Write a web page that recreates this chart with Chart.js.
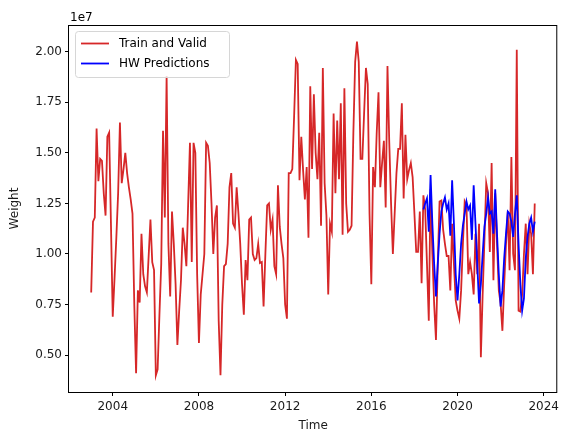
<!DOCTYPE html>
<html>
<head>
<meta charset="utf-8">
<script src="https://cdn.jsdelivr.net/npm/chart.js@4/dist/chart.umd.min.js"></script>
<style>
  html, body { margin: 0; padding: 0; background: #fff; }
</style>
</head>
<body>
<canvas id="chart" width="563" height="435"></canvas>
<script>
// monthly values from Jan 2003, weight in units of 1e7
var startYear = 2003;

var trainValid = [
  0.81, 1.16, 1.18, 1.62, 1.36, 1.47, 1.46, 1.30, 1.19, 1.58, 1.60, 1.15,   // 2003
  0.69, 0.88, 1.08, 1.30, 1.65, 1.35, 1.42, 1.50, 1.40, 1.33, 1.27, 1.20,   // 2004
  0.75, 0.41, 0.82, 0.76, 1.10, 0.90, 0.84, 0.81, 0.99, 1.17, 0.96, 0.92,   // 2005
  0.40, 0.43, 0.70, 0.95, 1.61, 1.18, 1.88, 1.05, 0.79, 1.21, 1.05, 0.85,   // 2006
  0.55, 0.72, 0.87, 1.13, 1.05, 0.94, 1.25, 1.55, 0.96, 1.55, 1.50, 0.90,   // 2007
  0.56, 0.80, 0.90, 1.00, 1.55, 1.535, 1.45, 1.25, 1.00, 1.18, 1.24, 0.67,  // 2008
  0.40, 0.75, 0.94, 0.95, 1.05, 1.33, 1.40, 1.15, 1.13, 1.33, 1.20, 1.05,   // 2009
  0.85, 0.70, 0.97, 0.87, 1.17, 1.18, 1.00, 0.97, 0.98, 1.05, 0.955, 0.96,  // 2010
  0.74, 1.00, 1.24, 1.25, 1.12, 1.17, 0.94, 0.90, 1.34, 1.135, 1.05, 0.98,  // 2011
  0.75, 0.68, 1.40, 1.40, 1.42, 1.68, 1.96, 1.94, 1.365, 1.58, 1.415, 1.27, // 2012
  1.43, 1.08, 1.83, 1.42, 1.79, 1.50, 1.37, 1.60, 1.14, 1.92, 1.35, 1.19,   // 2013
  0.80, 1.15, 1.11, 1.695, 1.30, 1.66, 1.37, 1.745, 1.095, 1.82, 1.25, 1.11, // 2014
  1.12, 1.14, 1.60, 1.95, 2.05, 1.95, 1.47, 1.47, 1.70, 1.92, 1.84, 1.20,   // 2015
  0.85, 1.43, 1.33, 1.60, 1.80, 1.33, 1.45, 1.56, 1.23, 1.93, 1.55, 1.25,   // 2016
  1.00, 1.20, 1.40, 1.52, 1.52, 1.745, 1.275, 1.59, 1.37, 1.415, 1.45, 1.38, // 2017
  1.20, 1.01, 1.01, 1.21, 0.855, 1.29, 1.22, 0.95, 0.67, 1.32, 1.00, 0.75,  // 2018
  0.575, 0.95, 1.26, 1.265, 1.12, 1.05, 0.99, 0.99, 0.82, 1.15, 0.95, 0.77, // 2019
  0.72, 0.68, 0.82, 1.05, 1.26, 1.24, 0.90, 0.96, 0.90, 0.80, 1.10, 0.90,   // 2020
  1.15, 0.49, 0.80, 1.07, 1.35, 1.30, 1.01, 1.45, 0.87, 1.30, 1.05, 0.82,   // 2021
  0.755, 0.62, 0.85, 1.05, 1.21, 0.92, 1.48, 1.00, 0.92, 2.01, 0.72, 0.715, // 2022
  0.80, 1.00, 1.15, 0.90, 1.15, 1.10, 0.90, 1.25                            // 2023
];

// predictions start at Jun 2018 (month index 185)
var hwStart = 185;
var hwPredictions = [
  1.22, 1.25, 1.275, 1.11, 1.39, 1.15, 0.95,                                // 2018
  0.79, 0.95, 1.10, 1.21, 1.25, 1.28, 1.22, 1.25, 1.09, 1.365, 1.15, 0.90,  // 2019
  0.77, 0.90, 1.05, 1.14, 1.20, 1.26, 1.22, 1.24, 1.07, 1.34, 1.15, 0.95,   // 2020
  0.755, 0.85, 1.00, 1.135, 1.20, 1.28, 1.20, 1.21, 1.10, 1.32, 1.10, 0.90, // 2021
  0.74, 0.82, 0.98, 1.10, 1.21, 1.20, 1.16, 1.085, 1.20, 1.29, 1.05, 0.85,  // 2022
  0.72, 0.78, 0.98, 1.085, 1.15, 1.18, 1.11, 1.16                           // 2023
];

var xTicks = [2004, 2008, 2012, 2016, 2020, 2024];
var yTicks = [0.5, 0.75, 1.0, 1.25, 1.5, 1.75, 2.0];

function toPoints(values, offset) {
  return values.map(function(v, i) {
    return { x: startYear + (offset + i) / 12, y: v };
  });
}

var fontFamily = "'DejaVu Sans', sans-serif";

// box around the axes, "1e7" offset text and the legend
var framePlugin = {
  id: 'frame',
  afterDraw: function(chart) {
    var ctx = chart.ctx;
    var a = chart.chartArea;
    ctx.save();
    ctx.strokeStyle = '#000';
    ctx.lineWidth = 1;
    ctx.strokeRect(a.left - 0.5, a.top + 0.5, a.right - a.left, a.bottom - a.top);

    ctx.fillStyle = '#000';
    ctx.font = '12px ' + fontFamily;
    ctx.textAlign = 'left';
    ctx.textBaseline = 'alphabetic';
    ctx.fillText('1e7', a.left + 1, 21);

    // legend
    var lx = 75.5, ly = 31.5, lw = 154, lh = 46, r = 3;
    ctx.beginPath();
    ctx.moveTo(lx + r, ly);
    ctx.lineTo(lx + lw - r, ly);
    ctx.quadraticCurveTo(lx + lw, ly, lx + lw, ly + r);
    ctx.lineTo(lx + lw, ly + lh - r);
    ctx.quadraticCurveTo(lx + lw, ly + lh, lx + lw - r, ly + lh);
    ctx.lineTo(lx + r, ly + lh);
    ctx.quadraticCurveTo(lx, ly + lh, lx, ly + lh - r);
    ctx.lineTo(lx, ly + r);
    ctx.quadraticCurveTo(lx, ly, lx + r, ly);
    ctx.closePath();
    ctx.fillStyle = 'rgba(255,255,255,0.8)';
    ctx.fill();
    ctx.strokeStyle = '#d6d6d6';
    ctx.stroke();

    var rows = [43.5, 63.5];
    chart.data.datasets.forEach(function(ds, i) {
      ctx.strokeStyle = ds.borderColor;
      ctx.lineWidth = ds.borderWidth;
      ctx.beginPath();
      ctx.moveTo(81, rows[i]);
      ctx.lineTo(109, rows[i]);
      ctx.stroke();
      ctx.fillStyle = '#000';
      ctx.textBaseline = 'middle';
      ctx.fillText(ds.label, 119, rows[i] + 0.5);
    });
    ctx.restore();
  }
};

new Chart('chart', {
  type: 'line',
  data: {
    datasets: [
      {
        label: 'Train and Valid',
        data: toPoints(trainValid, 0),
        borderColor: '#d62728',
        borderWidth: 1.8,
        pointRadius: 0,
        tension: 0,
        order: 2
      },
      {
        label: 'HW Predictions',
        data: toPoints(hwPredictions, hwStart),
        borderColor: '#0000ff',
        borderWidth: 1.8,
        pointRadius: 0,
        tension: 0,
        order: 1
      }
    ]
  },
  options: {
    responsive: false,
    animation: false,
    devicePixelRatio: 1,
    layout: { padding: { left: 0, right: 1, top: 25, bottom: 0 } },
    plugins: {
      legend: { display: false },
      tooltip: { enabled: false }
    },
    scales: {
      x: {
        type: 'linear',
        min: 2001.97,
        max: 2024.63,
        afterBuildTicks: function(scale) {
          scale.ticks = xTicks.map(function(v) { return { value: v }; });
        },
        afterFit: function(scale) { scale.height = 43; },
        ticks: {
          color: '#1a1a1a',
          padding: 4,
          maxRotation: 0,
          autoSkip: false,
          font: { family: fontFamily, size: 12 },
          callback: function(v) { return String(v); }
        },
        grid: { drawOnChartArea: false, drawTicks: true, tickLength: 4, color: '#000' },
        border: { display: false },
        title: {
          display: true,
          text: 'Time',
          color: '#1a1a1a',
          font: { family: fontFamily, size: 12 },
          padding: { top: 0, bottom: 2 }
        }
      },
      y: {
        type: 'linear',
        min: 0.3175,
        max: 2.1325,
        afterBuildTicks: function(scale) {
          scale.ticks = yTicks.map(function(v) { return { value: v }; });
        },
        afterFit: function(scale) { scale.width = 69; },
        ticks: {
          color: '#1a1a1a',
          padding: 3,
          autoSkip: false,
          font: { family: fontFamily, size: 12 },
          callback: function(v) { return Number(v).toFixed(2); }
        },
        grid: { drawOnChartArea: false, drawTicks: true, tickLength: 4, color: '#000' },
        border: { display: false },
        title: {
          display: true,
          text: 'Weight',
          color: '#1a1a1a',
          font: { family: fontFamily, size: 12 },
          padding: { top: 8, bottom: 0 }
        }
      }
    }
  },
  plugins: [framePlugin]
});
</script>
</body>
</html>
